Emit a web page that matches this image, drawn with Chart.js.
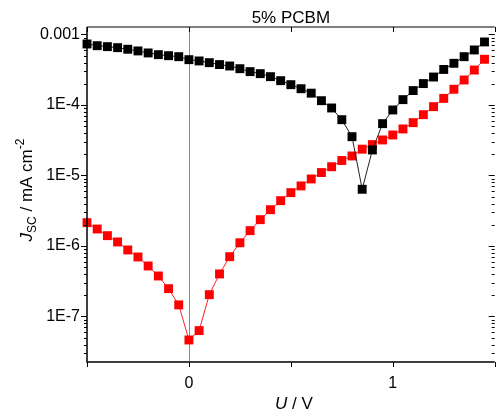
<!DOCTYPE html>
<html>
<head>
<meta charset="utf-8">
<script src="https://cdn.jsdelivr.net/npm/chart.js@4.4.1/dist/chart.umd.min.js"></script>
<style>
body{margin:0;background:#fff}
</style>
</head>
<body>
<canvas id="canvas" width="501" height="419"></canvas>
<script>
// U / V
const voltaje = [-0.5, -0.45, -0.4, -0.35, -0.3, -0.25, -0.2, -0.15, -0.1, -0.05,
    0, 0.05, 0.1, 0.15, 0.2, 0.25, 0.3, 0.35, 0.4, 0.45,
    0.5, 0.55, 0.6, 0.65, 0.7, 0.75, 0.8, 0.85, 0.9, 0.95,
    1.0, 1.05, 1.1, 1.15, 1.2, 1.25, 1.3, 1.35, 1.4, 1.45];
// J_SC / mA cm-2, serie negra
const jNegro = [7.33e-4, 6.93e-4, 6.72e-4, 6.50e-4, 6.17e-4, 5.84e-4, 5.47e-4, 5.17e-4, 5.00e-4, 4.84e-4,
    4.39e-4, 4.21e-4, 3.98e-4, 3.74e-4, 3.57e-4, 3.27e-4, 2.97e-4, 2.78e-4, 2.52e-4, 2.21e-4,
    1.94e-4, 1.70e-4, 1.47e-4, 1.15e-4, 9.06e-5, 6.18e-5, 3.55e-5, 6.37e-6, 2.30e-5, 5.43e-5,
    8.49e-5, 1.19e-4, 1.60e-4, 2.01e-4, 2.49e-4, 3.19e-4, 3.90e-4, 4.84e-4, 6.03e-4, 7.83e-4];
// serie roja
const jRojo = [2.14e-6, 1.74e-6, 1.40e-6, 1.14e-6, 8.78e-7, 6.98e-7, 5.20e-7, 3.75e-7, 2.48e-7, 1.46e-7,
    4.64e-8, 6.30e-8, 2.04e-7, 4.01e-7, 7.05e-7, 1.11e-6, 1.65e-6, 2.36e-6, 3.27e-6, 4.39e-6,
    5.71e-6, 7.10e-6, 8.92e-6, 1.10e-5, 1.33e-5, 1.63e-5, 1.89e-5, 2.36e-5, 2.74e-5, 3.19e-5,
    3.75e-5, 4.57e-5, 5.61e-5, 7.28e-5, 9.46e-5, 1.24e-4, 1.67e-4, 2.26e-4, 3.13e-4, 4.45e-4];

const ticksX = [0, 1];
const etiquetasX = ["0", "1"];
const ticksXMenores = [-0.5, 0, 0.5, 1, 1.5];
const ticksY = [1e-7, 1e-6, 1e-5, 1e-4, 1e-3];
const etiquetasY = ["1E-7", "1E-6", "1E-5", "1E-4", "0.001"];

const fuente = '"Liberation Sans", Arial, sans-serif';

function puntos(ys){
    return voltaje.map((v, i) => ({x: v, y: ys[i]}));
}

const marco = {
    id: 'marco',
    beforeDatasetsDraw(chart){
        // linea vertical en U = 0
        const {ctx, chartArea: a, scales: {x}} = chart;
        const px = Math.round(x.getPixelForValue(0)) + 0.5;
        ctx.save();
        ctx.strokeStyle = '#8a8a8a';
        ctx.lineWidth = 1;
        ctx.beginPath();
        ctx.moveTo(px, a.top);
        ctx.lineTo(px, a.bottom);
        ctx.stroke();
        ctx.restore();
    },
    afterDraw(chart){
        const {ctx, chartArea: a, scales: {x, y}} = chart;
        ctx.save();
        // ejes
        ctx.strokeStyle = '#555';
        ctx.lineWidth = 1.5;
        ctx.beginPath();
        ctx.moveTo(a.left, a.top);
        ctx.lineTo(a.right, a.top);
        ctx.stroke();
        ctx.strokeStyle = '#000';
        ctx.beginPath();
        ctx.moveTo(a.left, a.top);
        ctx.lineTo(a.left, a.bottom);
        ctx.lineTo(a.right, a.bottom);
        ctx.stroke();
        // ticks eje y (log)
        ctx.lineWidth = 1;
        ctx.beginPath();
        for (let e = -8; e <= -3; e++){
            for (let m = 1; m <= 9; m++){
                const v = m * Math.pow(10, e);
                if (v < y.min || v > y.max) continue;
                const py = Math.round(y.getPixelForValue(v)) + 0.5;
                const largo = m === 1 ? 6 : 3;
                ctx.moveTo(a.left - largo, py);
                ctx.lineTo(a.left, py);
                ctx.moveTo(a.right - largo, py);
                ctx.lineTo(a.right, py);
            }
        }
        // ticks eje x
        ticksXMenores.forEach(v => {
            const px = Math.round(x.getPixelForValue(v)) + 0.5;
            ctx.moveTo(px, a.bottom);
            ctx.lineTo(px, a.bottom + 5);
            ctx.moveTo(px, a.top);
            ctx.lineTo(px, a.top + 5);
        });
        ctx.stroke();

        ctx.fillStyle = '#000';
        // titulo
        ctx.font = '17px ' + fuente;
        ctx.textAlign = 'center';
        ctx.textBaseline = 'alphabetic';
        ctx.fillText('5% PCBM', (a.left + a.right) / 2, 23);

        // titulo eje x: U / V
        ctx.textAlign = 'left';
        const fU = 'italic 17px ' + fuente;
        const fN = '17px ' + fuente;
        ctx.font = fU;
        const wU = ctx.measureText('U').width;
        ctx.font = fN;
        const wV = ctx.measureText(' / V').width;
        let cx = (a.left + a.right) / 2 + 3 - (wU + wV) / 2;
        ctx.font = fU;
        ctx.fillText('U', cx, 409);
        ctx.font = fN;
        ctx.fillText(' / V', cx + wU, 409);

        // titulo eje y: J_SC / mA cm^-2
        const partes = [
            {t: 'J', f: 'italic 17px ' + fuente, dy: 0},
            {t: 'SC', f: '12px ' + fuente, dy: 4},
            {t: ' / mA cm', f: '17px ' + fuente, dy: 0},
            {t: '-2', f: '12px ' + fuente, dy: -8}
        ];
        let total = 0;
        partes.forEach(p => { ctx.font = p.f; p.w = ctx.measureText(p.t).width; total += p.w; });
        ctx.translate(32, 190);
        ctx.rotate(-Math.PI / 2);
        let pos = -total / 2;
        partes.forEach(p => {
            ctx.font = p.f;
            ctx.fillText(p.t, pos, p.dy);
            pos += p.w;
        });
        ctx.restore();
    }
};

const ctx = document.getElementById('canvas').getContext('2d');
const chart = new Chart(ctx, {
    type: 'line',
    data: {
        datasets: [{
            label: 'negro',
            data: puntos(jNegro),
            borderColor: '#222',
            backgroundColor: '#000',
            borderWidth: 1,
            pointStyle: 'rect',
            pointRadius: 6.3,
            pointBorderWidth: 0,
            pointBackgroundColor: '#000',
            clip: false
        }, {
            label: 'rojo',
            data: puntos(jRojo),
            borderColor: '#ff2020',
            backgroundColor: '#ff0000',
            borderWidth: 1,
            pointStyle: 'rect',
            pointRadius: 6.3,
            pointBorderWidth: 0,
            pointBackgroundColor: '#ff0000',
            clip: false
        }]
    },
    options: {
        responsive: false,
        devicePixelRatio: 1,
        animation: false,
        layout: {padding: {top: 27, left: 0, right: 0, bottom: 0}},
        plugins: {legend: {display: false}, tooltip: {enabled: false}, title: {display: false}},
        scales: {
            x: {
                type: 'linear',
                min: -0.5,
                max: 1.5,
                grid: {display: false, drawTicks: false},
                border: {display: false},
                afterBuildTicks: s => { s.ticks = ticksX.map(v => ({value: v})); },
                afterFit: s => { s.height = 57; },
                ticks: {
                    padding: 12,
                    color: '#000',
                    font: {family: fuente, size: 16},
                    callback: (v) => etiquetasX[ticksX.indexOf(v)]
                }
            },
            y: {
                type: 'logarithmic',
                min: 2.26e-8,
                max: 1.276e-3,
                grid: {display: false, drawTicks: false},
                border: {display: false},
                afterBuildTicks: s => { s.ticks = ticksY.map(v => ({value: v})); },
                afterFit: s => { s.width = 87; },
                ticks: {
                    padding: 7,
                    color: '#000',
                    font: {family: fuente, size: 16},
                    callback: (v) => etiquetasY[ticksY.indexOf(v)]
                }
            }
        }
    },
    plugins: [marco]
});
</script>
</body>
</html>
